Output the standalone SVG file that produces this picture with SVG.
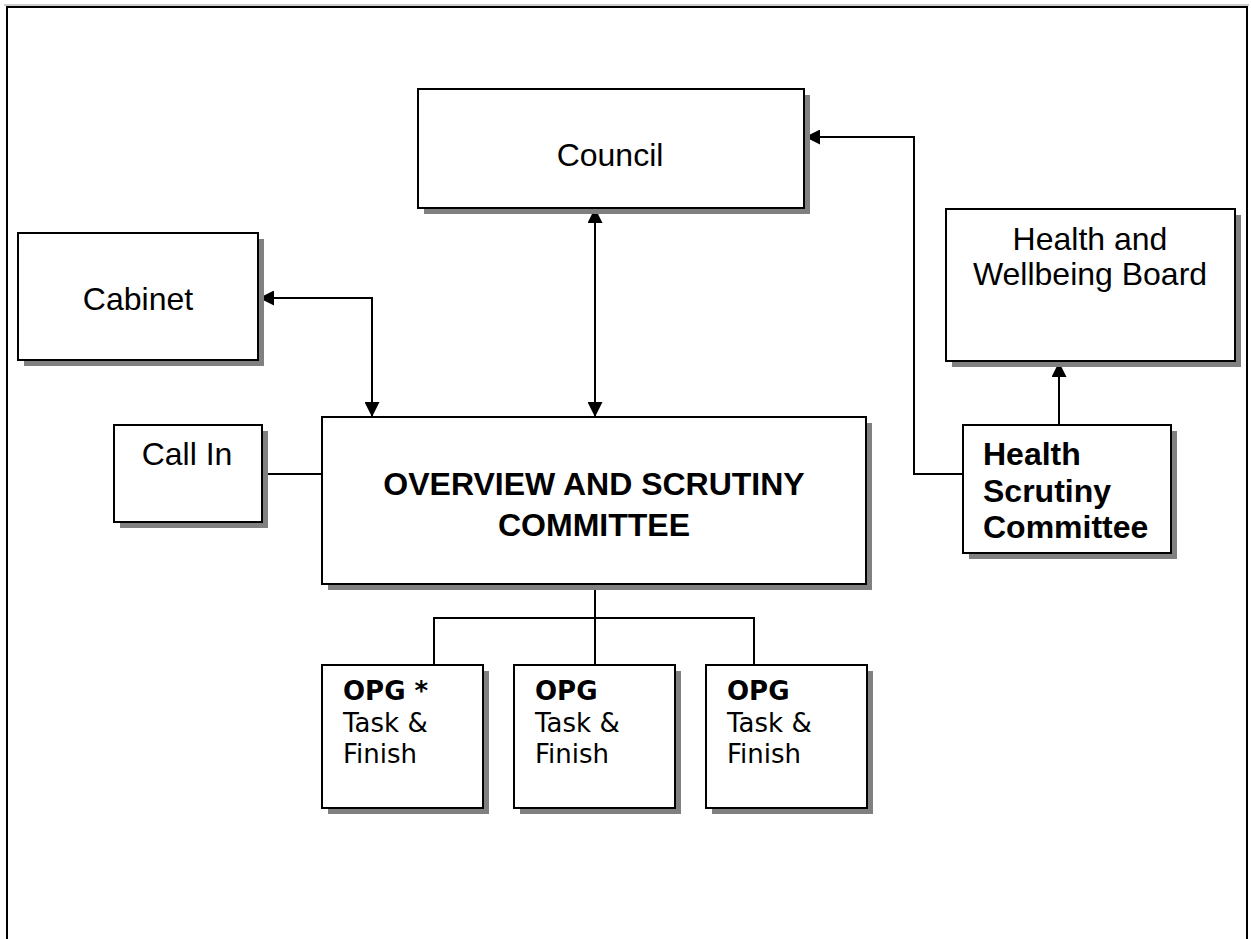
<svg xmlns="http://www.w3.org/2000/svg" width="1251" height="939" viewBox="0 0 1251 939">
<defs>
<style>
.box{fill:#fff;stroke:#000;stroke-width:2}
.sh{fill:#808080}
.t{font-family:"Liberation Sans",Arial,sans-serif;font-size:32px;fill:#000}
.b{font-family:"Liberation Sans",Arial,sans-serif;font-size:32px;font-weight:bold;fill:#000}
.v{font-family:"DejaVu Sans",Verdana,sans-serif;font-size:26px;fill:#000}
.vb{font-family:"DejaVu Sans",Verdana,sans-serif;font-size:26px;font-weight:bold;fill:#000}
.c{fill:none;stroke:#000;stroke-width:2}
</style>
<marker id="ah" viewBox="0 0 10 10" refX="10" refY="5" markerWidth="15" markerHeight="15" markerUnits="userSpaceOnUse" orient="auto-start-reverse">
<path d="M0,0 L10,5 L0,10 z" fill="#000"/>
</marker>
</defs>
<rect width="1251" height="939" fill="#fff"/>
<g id="frame">
<line x1="4" y1="5" x2="1249" y2="5" stroke="#999" stroke-width="1"/>
<path d="M7,939 V7 H1247 V939" fill="none" stroke="#000" stroke-width="2"/>
</g>
<g id="connectors">
<line class="c" x1="595" y1="208" x2="595" y2="417" marker-start="url(#ah)" marker-end="url(#ah)"/>
<polyline class="c" points="259,298 372,298 372,417" marker-start="url(#ah)" marker-end="url(#ah)"/>
<polyline class="c" points="963,474 914,474 914,137 805,137" marker-end="url(#ah)"/>
<line class="c" x1="1059" y1="425" x2="1059" y2="362" marker-end="url(#ah)"/>
<line class="c" x1="262" y1="474" x2="322" y2="474"/>
<line class="c" x1="595" y1="584" x2="595" y2="665"/>
<polyline class="c" points="434,665 434,618 754,618 754,665"/>
</g>
<g id="council">
<rect class="sh" x="424" y="95" width="386" height="119"/>
<rect class="box" x="418" y="89" width="386" height="119"/>
<text class="t" x="610" y="166" text-anchor="middle">Council</text>
</g>
<g id="cabinet">
<rect class="sh" x="24" y="239" width="240" height="127"/>
<rect class="box" x="18" y="233" width="240" height="127"/>
<text class="t" x="138" y="310" text-anchor="middle">Cabinet</text>
</g>
<g id="hwb">
<rect class="sh" x="952" y="215" width="289" height="152"/>
<rect class="box" x="946" y="209" width="289" height="152"/>
<text class="t" x="1090" y="250" text-anchor="middle">Health and</text>
<text class="t" x="1090" y="285" text-anchor="middle">Wellbeing Board</text>
</g>
<g id="callin">
<rect class="sh" x="120" y="431" width="148" height="97"/>
<rect class="box" x="114" y="425" width="148" height="97"/>
<text class="t" x="187" y="465" text-anchor="middle">Call In</text>
</g>
<g id="osc">
<rect class="sh" x="328" y="423" width="544" height="167"/>
<rect class="box" x="322" y="417" width="544" height="167"/>
<text class="b" x="594" y="495" text-anchor="middle">OVERVIEW AND SCRUTINY</text>
<text class="b" x="594" y="536" text-anchor="middle">COMMITTEE</text>
</g>
<g id="hsc">
<rect class="sh" x="969" y="431" width="208" height="128"/>
<rect class="box" x="963" y="425" width="208" height="128"/>
<text class="b" x="983" y="465">Health</text>
<text class="b" x="983" y="502">Scrutiny</text>
<text class="b" x="983" y="538">Committee</text>
</g>
<g id="opg1">
<rect class="sh" x="328" y="671" width="161" height="143"/>
<rect class="box" x="322" y="665" width="161" height="143"/>
<text class="vb" x="343" y="700">OPG *</text>
<text class="v" x="343" y="732">Task &amp;</text>
<text class="v" x="343" y="763">Finish</text>
</g>
<g id="opg2">
<rect class="sh" x="520" y="671" width="161" height="143"/>
<rect class="box" x="514" y="665" width="161" height="143"/>
<text class="vb" x="535" y="700">OPG</text>
<text class="v" x="535" y="732">Task &amp;</text>
<text class="v" x="535" y="763">Finish</text>
</g>
<g id="opg3">
<rect class="sh" x="712" y="671" width="161" height="143"/>
<rect class="box" x="706" y="665" width="161" height="143"/>
<text class="vb" x="727" y="700">OPG</text>
<text class="v" x="727" y="732">Task &amp;</text>
<text class="v" x="727" y="763">Finish</text>
</g>
</svg>
